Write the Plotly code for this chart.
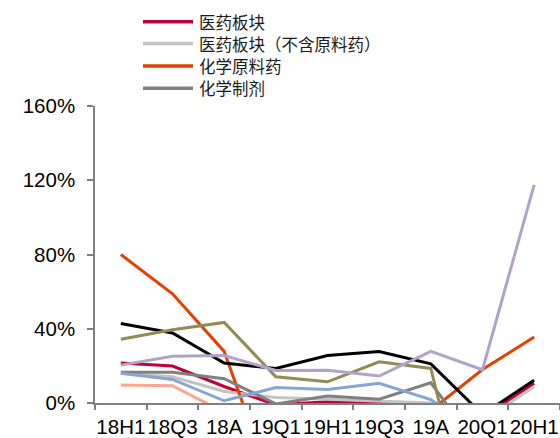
import plotly.graph_objects as go

# Reporting periods
periods = ["18H1", "18Q3", "18A", "19Q1", "19H1", "19Q3", "19A", "20Q1", "20H1"]

# Growth rates (%) per sub-sector
pharma_all = [21.6, 19.9, 8.9, -1.0, 0.7, 0.3, -1.0, -8.0, 10.7]
pharma_ex_api = [16.0, 14.1, 6.2, 3.0, 2.0, 1.0, 0.0, -9.5, 8.8]
api = [80.0, 58.8, 27.8, -50.0, -35.0, -25.0, -4.0, 18.0, 35.5]
formulation = [16.5, 16.5, 13.1, -0.5, 3.8, 2.0, 10.9, -27.0, -10.0]
series_black = [42.8, 37.7, 21.5, 18.6, 25.6, 27.7, 21.1, -6.2, 12.3]
series_olive = [34.4, 39.5, 43.4, 14.1, 11.4, 22.2, 18.6, -95.0, -40.0]
series_lavender = [20.4, 25.2, 25.6, 17.5, 17.6, 14.5, 27.8, 17.9, 117.5]
series_blue = [16.0, 12.7, 1.2, 8.3, 7.3, 10.6, 1.8, -16.0, -10.0]
series_salmon = [9.7, 9.3, -5.0, -12.0, -8.0, -15.0, -9.0, -20.0, -6.0]

# Y axis ticks
y_ticks = [0, 40, 80, 120, 160]
y_tick_labels = ["0%", "40%", "80%", "120%", "160%"]

# Legend labels (only the first four are listed)
legend_labels = ["医药板块", "医药板块（不含原料药）", "化学原料药", "化学制剂"]

series = [
    ("医药板块", pharma_all, "#C0003A"),
    ("医药板块（不含原料药）", pharma_ex_api, "#C3C3C3"),
    ("化学原料药", api, "#E44100"),
    ("化学制剂", formulation, "#808080"),
    ("中药", series_black, "#000000"),
    ("生物制品", series_olive, "#948A54"),
    ("医疗器械", series_lavender, "#B3A2C7"),
    ("医药商业", series_blue, "#86A5D6"),
    ("医疗服务", series_salmon, "#FFA592"),
]

W, H = 560, 438
M_L, M_R, M_T, M_B = 95, 0, 106, 35
plot_w = W - M_L - M_R
plot_h = H - M_T - M_B


def px_to_paper(px, py):
    return (px - M_L) / plot_w, (H - M_B - py) / plot_h


fig = go.Figure()
for name, vals, color in series:
    fig.add_trace(go.Scatter(
        x=periods, y=vals, name=name, mode="lines",
        line=dict(color=color, width=3),
        showlegend=False,
    ))

# Hand-drawn legend block above the plot
row_y = [21.7, 43.5, 66.0, 88.3]
for (name, _, color), label, ry in zip(series[:4], legend_labels, row_y):
    x0, y0 = px_to_paper(143, ry)
    x1, _ = px_to_paper(193, ry)
    fig.add_shape(type="line", xref="paper", yref="paper",
                  x0=x0, x1=x1, y0=y0, y1=y0,
                  line=dict(color=color, width=3.5))
    tx, ty = px_to_paper(198, ry)
    fig.add_annotation(xref="paper", yref="paper", x=tx, y=ty,
                       text=label, showarrow=False, borderpad=0,
                       xanchor="left", yanchor="middle",
                       font=dict(family="Noto Sans CJK SC", size=16.5, color="#1a1a1a"))

axis_font = dict(family="Liberation Sans, Arial", size=20.5, color="#000000")

fig.update_layout(
    width=W, height=H,
    margin=dict(l=M_L, r=M_R, t=M_T, b=M_B, autoexpand=False),
    paper_bgcolor="white", plot_bgcolor="white",
    showlegend=False,
)
fig.update_xaxes(
    type="category", range=[-0.5, 8.5], tickangle=0, automargin=False,
    showline=True, linecolor="#808080", linewidth=1.5,
    ticks="outside", tickson="boundaries", ticklen=5, tickcolor="#808080", tickwidth=1.5,
    showgrid=False, zeroline=False,
    tickfont=axis_font, ticklabelstandoff=5,
)
fig.update_yaxes(
    range=[0, 160], tickvals=y_ticks, ticktext=y_tick_labels, automargin=False,
    showline=True, linecolor="#808080", linewidth=1.5,
    ticks="outside", ticklen=6, tickcolor="#808080", tickwidth=1.5,
    showgrid=False, zeroline=False,
    tickfont=axis_font, ticklabelstandoff=8,
)

fig.write_html("out.html")
